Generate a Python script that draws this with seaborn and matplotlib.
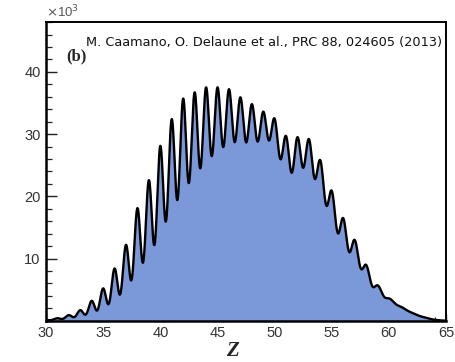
import numpy as np
import pandas as pd
import matplotlib
matplotlib.use("Agg")
import matplotlib.pyplot as plt
from matplotlib.ticker import MultipleLocator
import seaborn as sns

# Charge number Z of the fission fragments
z_values = list(range(30, 65))
# Peak heights (counts / 10^3) read at each integer Z
peak_heights = [0.1, 0.4, 0.9, 1.7, 3.2, 5.2, 8.4, 12.2, 18.1, 22.6,
                28.1, 32.4, 35.7, 36.7, 37.5, 37.5, 37.2, 35.9, 34.8, 33.6,
                32.5, 29.7, 29.5, 29.2, 25.8, 20.9, 16.5, 13.0, 9.0, 5.7,
                3.6, 2.3, 1.3, 0.6, 0.15]
# Charge resolution (sigma, in Z units) read from the valley depths
resolution = [0.30, 0.30, 0.30, 0.29, 0.28, 0.28, 0.28, 0.285, 0.29, 0.295,
              0.30, 0.315, 0.32, 0.335, 0.345, 0.36, 0.37, 0.385, 0.39, 0.41,
              0.41, 0.385, 0.39, 0.40, 0.385, 0.38, 0.36, 0.38, 0.37, 0.40,
              0.45, 0.50, 0.50, 0.50, 0.50]

sns.set_theme(style="white")
plt.rcParams['font.family'] = ['Liberation Sans', 'DejaVu Sans']

zc = np.array(z_values, dtype=float)
sig = np.array(resolution)
ph = np.array(peak_heights)
# amplitudes so that the summed peaks reproduce the read peak heights
M = np.exp(-(zc[:, None] - zc[None, :]) ** 2 / (2 * sig[None, :] ** 2))
amp = np.linalg.solve(M, ph)
zz = np.linspace(29.5, 65.0, 3000)
yy = (amp[None, :] * np.exp(-(zz[:, None] - zc[None, :]) ** 2 / (2 * sig[None, :] ** 2))).sum(axis=1)
yy = np.clip(yy, 0, None)
df = pd.DataFrame({"Z": zz, "counts": yy})

fig = plt.figure(figsize=(4.56, 3.62), dpi=100)
ax = fig.add_axes([0.101, 0.114, 0.877, 0.825])
ax.fill_between(df["Z"], 0, df["counts"], color="#7b98d8", lw=0, zorder=1)
sns.lineplot(data=df, x="Z", y="counts", ax=ax, color="black", lw=1.7, zorder=2)

ax.set_xlim(30, 65)
ax.set_ylim(0, 48)
ax.xaxis.set_major_locator(MultipleLocator(5))
ax.xaxis.set_minor_locator(MultipleLocator(1))
ax.set_yticks([10, 20, 30, 40])
ax.yaxis.set_minor_locator(MultipleLocator(2))
ax.tick_params(axis="both", which="major", direction="in", length=8, width=1,
               color="#222222", labelsize=10.5, labelcolor="#333333",
               top=False, right=False, left=True, bottom=True, pad=4)
ax.tick_params(axis="y", which="minor", direction="in", length=4.5, width=0.9,
               color="#222222", left=True, right=False)
ax.tick_params(axis="x", which="minor", direction="in", length=3, width=0.9,
               color="#222222", bottom=True, top=False)
ax.tick_params(axis="x", which="major", length=5)
for s in ax.spines.values():
    s.set_color("black")
    s.set_linewidth(1.4)
ax.spines["left"].set_linewidth(1.8)
ax.spines["bottom"].set_linewidth(1.8)

ax.set_ylabel("")
ax.set_xlabel("Z", fontsize=15, family="Liberation Serif", fontweight="bold",
              fontstyle="italic", labelpad=1)
ax.xaxis.set_label_coords(0.465, -0.068)

fig.text(0.101, 0.945, r"$\times$10$^3$", fontsize=9.5, color="#555555",
         ha="left", va="bottom")
ax.text(0.99, 0.933, "M. Caamano, O. Delaune et al., PRC 88, 024605 (2013)",
        transform=ax.transAxes, fontsize=9.3, family="DejaVu Sans",
        ha="right", va="center", color="#111111")
ax.text(0.05, 0.885, "(b)", transform=ax.transAxes, fontsize=12,
        family="Liberation Serif", fontweight="bold", ha="left", va="center")

fig.savefig("out.png", dpi=100)
